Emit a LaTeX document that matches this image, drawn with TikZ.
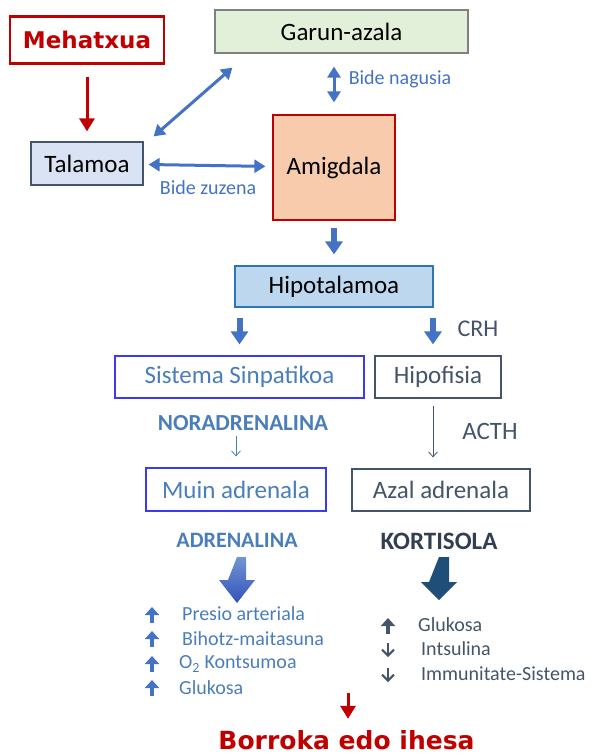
\documentclass[tikz,border=0pt]{standalone}
\usepackage{fontspec}
\setmainfont{Carlito}
\newfontfamily\alarmfont{DejaVu Sans}
\usetikzlibrary{arrows.meta}

\definecolor{threatred}{HTML}{C00000}
\definecolor{arrowblue}{HTML}{4472C4}
\definecolor{textblue}{HTML}{4A7EBB}
\definecolor{slate}{HTML}{44546A}
\definecolor{darkslate}{HTML}{333F50}
\definecolor{navy}{HTML}{1F4E79}
\definecolor{cortexgreen}{HTML}{E2F0D9}
\definecolor{thalblue}{HTML}{DAE3F3}
\definecolor{amygpeach}{HTML}{F8CBAD}
\definecolor{hypoblue}{HTML}{BDD7EE}
\definecolor{hypoline}{HTML}{2E75B6}
\definecolor{brightblue}{HTML}{3A3AF2}

\begin{document}
\begin{tikzpicture}[x=1pt, y=-1pt]
	\tikzstyle{box} = [rectangle, draw, inner sep=0pt, line width=1.2pt, font=\fontsize{25}{30}\selectfont]
	\tikzstyle{note} = [inner sep=0pt, text=arrowblue, font=\fontsize{20}{24}\selectfont]
	\tikzstyle{hormone} = [inner sep=0pt, font=\bfseries\fontsize{22}{26}\selectfont]
	\tikzstyle{effect} = [anchor=west, inner sep=0pt, font=\fontsize{20}{24}\selectfont]
	\tikzstyle{bothway} = [{Triangle[width=13pt,length=11pt]}-{Triangle[width=13pt,length=11pt]}, line width=3pt, draw=arrowblue]
	\tikzstyle{fatarrow} = [-{Triangle[width=17pt,length=13pt]}, line width=6pt, draw=arrowblue]
	\tikzstyle{redarrow} = [-{Triangle[width=15pt,length=13pt]}, line width=3pt, draw=threatred]
	\tikzstyle{thinarrow} = [-{Straight Barb[width=9pt,length=5pt]}, line width=0.8pt]
	\tikzstyle{upmark} = [-{Triangle[width=14pt,length=8pt]}, line width=3.5pt]
	\tikzstyle{downmark} = [-{Straight Barb[width=12pt,length=6pt]}, line width=2pt]
	\useasboundingbox (0,0) rectangle (592,756);

	% boxes
	\node[box, draw=threatred, line width=2.5pt, text=threatred, font=\alarmfont\bfseries\fontsize{23}{27}\selectfont, minimum width=154, minimum height=47] (mehatxua) at (87,40) {Mehatxua};
	\node[box, fill=cortexgreen, draw=gray, minimum width=253, minimum height=43] (garun) at (341.5,31.5) {Garun-azala};
	\node[box, fill=thalblue, draw=slate, minimum width=112, minimum height=43] (talamoa) at (87,163.5) {Talamoa};
	\node[box, fill=amygpeach, draw=threatred, minimum width=122, minimum height=105] (amigdala) at (334,167.5) {Amigdala};
	\node[box, fill=hypoblue, draw=hypoline, minimum width=198, minimum height=41] (hipotalamoa) at (334,286.5) {Hipotalamoa};
	\node[box, draw=brightblue, text=textblue, minimum width=249, minimum height=42] (sinpatikoa) at (239.5,377) {Sistema Sinpatikoa};
	\node[box, draw=slate, text=slate, minimum width=126, minimum height=42] (hipofisia) at (438,377) {Hipofisia};
	\node[box, draw=brightblue, text=textblue, minimum width=180, minimum height=43] (muin) at (236,489.5) {Muin adrenala};
	\node[box, draw=slate, text=slate, minimum width=178, minimum height=42] (azal) at (441,490) {Azal adrenala};

	% labels
	\node[note] (zuzena) at (208,188) {Bide zuzena};
	\node[note] (nagusia) at (400,79) {Bide nagusia};
	\node[inner sep=0pt, text=slate, font=\fontsize{24}{28}\selectfont] (crh) at (478,329) {CRH};
	\node[inner sep=0pt, text=slate, font=\fontsize{25}{30}\selectfont] (acth) at (490,431) {ACTH};
	\node[hormone, text=textblue, font=\bfseries\fontsize{23}{27}\selectfont] (nora) at (243,423) {NORADRENALINA};
	\node[hormone, text=textblue] (adrenalina) at (237,540) {ADRENALINA};
	\node[hormone, text=darkslate, font=\bfseries\fontsize{25}{29}\selectfont] (kortisola) at (439,541) {KORTISOLA};
	\node[inner sep=0pt, anchor=base, text=threatred, font=\alarmfont\bfseries\fontsize{25}{30}\selectfont] (borroka) at (346.5,749) {Borroka edo ihesa};

	% connectors
	\draw[redarrow, shorten <=12pt, shorten >=10pt] (mehatxua) -- (talamoa);
	\draw[bothway] ([xshift=10pt,yshift=5pt]talamoa.north east) -- ([xshift=18pt,yshift=-14pt]garun.south west);
	\draw[bothway, shorten <=5pt, shorten >=7pt] (talamoa) -- (amigdala);
	\draw[bothway, shorten <=13pt, shorten >=12pt] (amigdala.north |- garun.south) -- (amigdala.north);
	\draw[fatarrow, shorten <=7pt, shorten >=11pt] (amigdala) -- (hipotalamoa);
	\draw[fatarrow, shorten <=10pt, shorten >=11pt] (sinpatikoa.north |- hipotalamoa.south) -- (sinpatikoa.north);
	\draw[fatarrow, shorten <=10pt, shorten >=11pt] ([xshift=-5pt]hipofisia.north |- hipotalamoa.south) -- ([xshift=-5pt]hipofisia.north);
	\draw[thinarrow, draw=textblue, shorten <=5pt, shorten >=11pt] (muin.north |- nora.south) -- (muin.north);
	\draw[thinarrow, draw=slate, shorten <=7pt, shorten >=11pt] ([xshift=-5pt]hipofisia.south) -- ([xshift=-5pt]hipofisia.south |- azal.north);
	\coordinate (fightstart) at (348,693);
	\draw[redarrow, shorten >=11pt] (fightstart) -- (fightstart |- borroka.north);

	% block arrows
	\shade[top color=arrowblue!75!white, bottom color=arrowblue!80!blue!90!black] (237,557) -- ++(9,0) -- ++(0,23) -- ++(9,0) -- ++(-18,23) -- ++(-18,-23) -- ++(9,0) -- cycle;
	\fill[navy] (439,557) -- ++(10,0) -- ++(0,25) -- ++(8,0) -- ++(-18,18) -- ++(-18,-18) -- ++(8,0) -- cycle;

	% effects
	\node[effect, text=textblue] (presio) at (182,614) {Presio arteriala};
	\node[effect, text=textblue] (bihotz) at (182,639) {Bihotz-maitasuna};
	\node[effect, text=textblue] (oxigeno) at (179,664) {O\textsubscript{2} Kontsumoa};
	\node[effect, text=textblue] (glukosa) at (179,688) {Glukosa};
	\foreach \y in {615,639,664,688}
		\draw[upmark, draw=arrowblue] (152,\y+8) -- (152,\y-8);
	\node[effect, text=slate] (glukosa2) at (418,625) {Glukosa};
	\node[effect, text=slate] (intsulina) at (421,649) {Intsulina};
	\node[effect, text=slate] (immunitate) at (421,674) {Immunitate-Sistema};
	\draw[upmark, draw=slate] (388,634) -- (388,618);
	\foreach \y in {650,675}
		\draw[downmark, draw=slate] (388,\y-7) -- (388,\y+7);
\end{tikzpicture}
\end{document}
